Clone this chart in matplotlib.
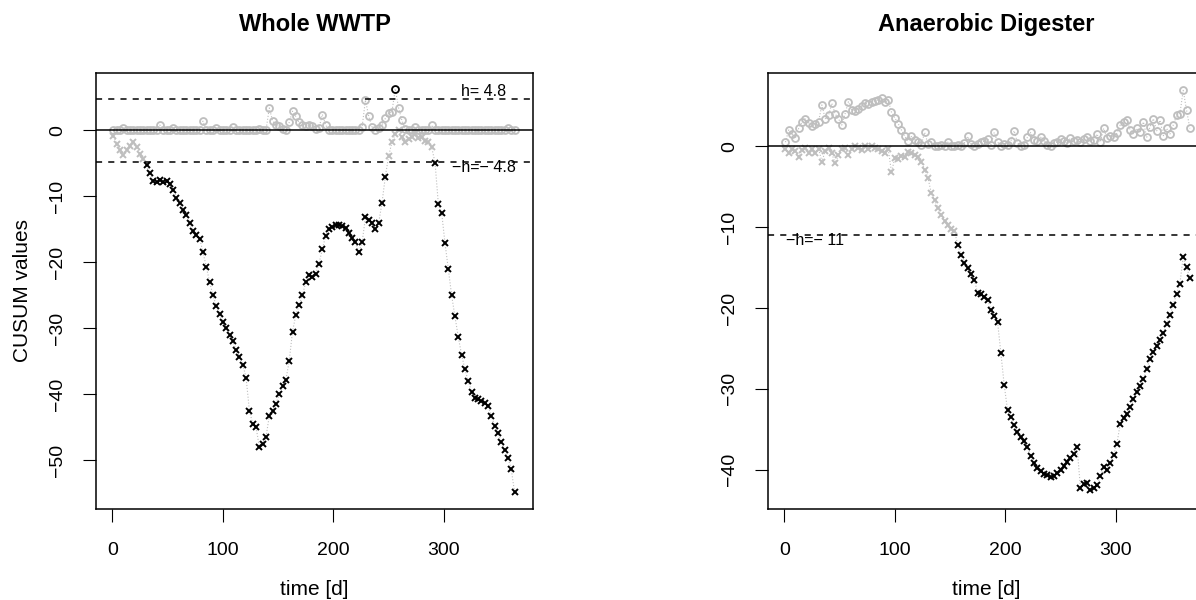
import numpy as np
import matplotlib
matplotlib.use("Agg")
import matplotlib.pyplot as plt

plt.rcParams['font.family'] = ['Liberation Sans', 'DejaVu Sans']

# CUSUM values, one value every 3 days starting at day 1
WWTP_UPPER = [
    0, 0, 0, 0.3, 0, 0, 0, 0, 0, 0,
    0, 0, 0, 0, 0.8, 0, 0, 0, 0.3, 0,
    0, 0, 0, 0, 0, 0, 0, 1.4, 0, 0,
    0, 0.3, 0, 0, 0, 0, 0.5, 0, 0, 0,
    0, 0, 0, 0, 0.2, 0, 0, 3.4, 1.4, 0.8,
    0.6, 0.2, 0, 1.2, 2.9, 2.1, 1.2, 0.8, 0.6, 0.8,
    0.6, 0.2, 0.4, 2.4, 0.8, 0, 0, 0, 0, 0,
    0, 0, 0, 0, 0, 0.5, 4.6, 2.1, 0.5, 0,
    0.3, 0.8, 1.8, 2.6, 2.8, 6.3, 3.4, 1.5, 0.2, 0,
    0, 0.5, 0, 0, 0, 0, 0.8, 0, 0, 0,
    0, 0, 0, 0, 0, 0, 0, 0, 0, 0,
    0, 0, 0, 0, 0, 0, 0, 0, 0, 0.3,
    0, 0,
]
WWTP_LOWER = [
    -0.9, -2.0, -3.0, -3.7, -3.0, -2.3, -1.7, -2.5, -3.6, -4.3,
    -5.3, -6.5, -7.7, -7.8, -7.6, -7.9, -7.7, -8.2, -9.0, -10.2,
    -11.0, -12.0, -12.8, -14.0, -15.3, -15.9, -16.4, -18.5, -20.7, -23.0,
    -25.0, -26.6, -27.8, -29.0, -30.0, -31.0, -32.0, -33.3, -34.3, -35.5,
    -37.5, -42.5, -44.5, -45.0, -48.0, -47.5, -46.5, -43.3, -42.5, -41.5,
    -40.0, -38.8, -37.8, -35.0, -30.5, -28.0, -26.5, -25.0, -23.0, -22.0,
    -22.2, -21.8, -20.2, -18.0, -16.0, -15.0, -14.6, -14.4, -14.4, -14.5,
    -14.8, -15.6, -16.3, -17.0, -18.5, -17.0, -13.2, -13.6, -14.0, -15.0,
    -14.0, -11.0, -7.0, -3.9, -1.8, -0.5, 0.0, -1.0, -1.7, -1.3,
    -1.0, -0.6, -1.2, -1.0, -1.6, -1.8, -2.6, -4.9, -11.2, -12.5,
    -17.1, -21.0, -25.0, -28.2, -31.3, -34.0, -36.2, -38.0, -39.6, -40.6,
    -40.8, -41.0, -41.3, -41.8, -43.3, -44.8, -45.9, -47.3, -48.4, -49.6,
    -51.4, -54.9,
]
AD_UPPER = [
    0.5, 2.0, 1.5, 1.0, 2.2, 3.0, 3.4, 2.9, 2.5, 2.7,
    3.0, 5.1, 3.4, 3.8, 5.3, 4.0, 3.4, 2.6, 4.0, 5.5,
    4.5, 4.4, 4.6, 5.0, 5.3, 5.2, 5.5, 5.6, 5.7, 5.9,
    5.4, 5.7, 4.2, 3.5, 2.8, 2.0, 1.2, 0.7, 1.2, 0.8,
    0.5, 0.2, 1.7, 0.3, 0.5, 0, 0, 0.1, 0, 0.5,
    0, 0, 0.2, 0, 0.4, 1.2, 0.3, 0, 0.3, 0.5,
    0.6, 0.9, 0.2, 1.7, 0.5, 0, 0.3, 0.2, 0.6, 1.9,
    0.4, 0, 0.2, 1.1, 1.7, 0.8, 0.6, 1.1, 0.7, 0.2,
    0, 0.4, 0.5, 0.9, 0.6, 0.4, 1.0, 0.7, 0.8, 0.5,
    0.9, 1.1, 0.6, 0.8, 1.5, 0.5, 2.2, 1.0, 1.3, 1.1,
    1.6, 2.6, 3.0, 3.2, 2.0, 1.5, 2.2, 1.8, 3.0, 1.1,
    2.4, 3.4, 1.9, 3.2, 1.3, 2.2, 1.5, 2.6, 3.8, 4.0,
    6.9, 4.5, 2.2,
]
AD_LOWER = [
    -0.3, -0.9, -0.3, -0.6, -1.3, -0.5, -0.2, -0.8, -0.4, -0.9,
    -0.3, -1.9, -0.6, -0.2, -0.9, -2.1, -1.1, -0.4, -0.2, -1.1,
    -0.3, 0, -0.2, -0.5, 0, -0.3, 0, -0.2, -0.4, -0.6,
    -0.9, -0.3, -3.2, -1.5, -1.6, -1.2, -1.3, -0.7, -0.9, -1.1,
    -1.3, -1.9, -2.9, -3.9, -5.8, -6.7, -7.6, -8.5, -9.3, -9.8,
    -10.2, -10.5, -12.2, -13.5, -14.4, -15.0, -15.8, -16.5, -18.2, -18.3,
    -18.6, -19.0, -20.2, -21.0, -21.7, -25.6, -29.5, -32.6, -33.5, -34.5,
    -35.3, -36.0, -36.5, -37.2, -38.3, -39.2, -39.8, -40.2, -40.5, -40.7,
    -40.9, -40.8, -40.4, -40.0, -39.5, -39.0, -38.5, -38.0, -37.2, -42.3,
    -41.8, -41.6, -42.5, -42.2, -41.9, -40.8, -39.7, -40.0, -39.2, -38.2,
    -36.8, -34.3, -33.6, -33.1, -32.3, -31.3, -30.4, -29.6, -28.8, -27.5,
    -26.3, -25.5, -24.7, -24.0, -23.1, -22.0, -20.9, -19.6, -18.3, -17.0,
    -13.7, -14.9, -16.3,
]

WWTP_H = 4.8
AD_H = 11

GRAY = "#BEBEBE"
DASH = (0, (4, 4))


def draw_panel(ax, upper, lower, h, title, ylim, yticks, labels):
    """One CUSUM panel in the style of the R plot."""
    upper = np.array(upper)
    lower = np.array(lower)
    days = 1 + 3 * np.arange(len(upper))

    # faint dotted connections
    ax.plot(days, upper, ls=':', color=GRAY, lw=0.8, zorder=1)
    ax.plot(days, lower, ls=':', color=GRAY, lw=0.8, zorder=1)

    out_up = upper > h
    out_lo = lower < -h
    ax.plot(days[~out_up], upper[~out_up], 'o', mfc='none', mec=GRAY, ms=5, mew=1.3, zorder=2)
    ax.plot(days[out_up], upper[out_up], 'o', mfc='none', mec='black', ms=5, mew=1.3, zorder=2)
    ax.plot(days[~out_lo], lower[~out_lo], 'x', color=GRAY, ms=5, mew=1.4, zorder=2)
    ax.plot(days[out_lo], lower[out_lo], 'x', color='black', ms=5, mew=1.4, zorder=2)

    ax.axhline(0, color='black', lw=1.1, zorder=3)
    ax.axhline(h, color='black', lw=1.1, ls=DASH, zorder=3)
    ax.axhline(-h, color='black', lw=1.1, ls=DASH, zorder=3)
    for x, y, txt in labels:
        ax.text(x, y, txt, ha='center', va='center', fontsize=11.5, zorder=4)

    ax.set_xlim(-14.8, 380.7)
    ax.set_ylim(*ylim)
    ax.set_xticks([0, 100, 200, 300])
    ax.set_yticks(yticks)
    ax.tick_params(axis='both', labelsize=14, length=9.5, width=0.8)
    ax.tick_params(axis='x', pad=14)
    ax.tick_params(axis='y', pad=12, labelrotation=90)
    for lab in ax.get_yticklabels():
        lab.set_va('center')
    for sp in ax.spines.values():
        sp.set_linewidth(1.1)

    ax.set_title(title, fontsize=17, fontweight='bold', pad=30)
    ax.set_xlabel("time [d]", fontsize=15)
    ax.xaxis.set_label_coords(0.5, -0.163)


fig = plt.figure(figsize=(11.96, 6.0), dpi=100)
ax1 = fig.add_axes([0.0803, 0.1517, 0.3654, 0.7267])
ax2 = fig.add_axes([0.6421, 0.1517, 0.3654, 0.7267])

draw_panel(ax1, WWTP_UPPER, WWTP_LOWER, WWTP_H, "Whole WWTP",
           (-57.4, 8.7), [0, -10, -20, -30, -40, -50],
           [(336, 5.9, "h= 4.8"), (336, -5.6, "\u2212h=\u2212 4.8")])
ax1.set_ylabel("CUSUM values", fontsize=15)
ax1.yaxis.set_label_coords(-0.146, 0.5)

draw_panel(ax2, AD_UPPER, AD_LOWER, AD_H, "Anaerobic Digester",
           (-44.85, 9.05), [0, -10, -20, -30, -40],
           [(28, -11.7, "\u2212h=\u2212 11")])

fig.savefig("out.png", dpi=100)
